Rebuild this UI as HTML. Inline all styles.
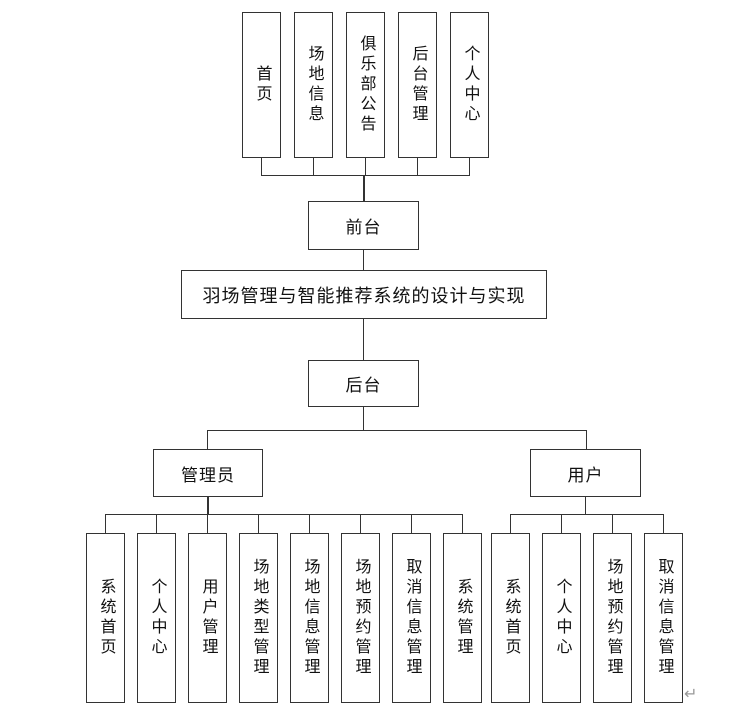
<!DOCTYPE html>
<html><head><meta charset="utf-8"><style>
body{margin:0;background:#fff;}
.b{position:absolute;border:1.5px solid #333;box-sizing:border-box;background:#fff;display:flex;align-items:center;justify-content:center;font-family:"Liberation Sans","Noto Sans CJK SC",sans-serif;color:#111;}
.v{writing-mode:vertical-rl;font-size:16px;line-height:16px;letter-spacing:4px;}
.h{font-size:17px;letter-spacing:1px;}
.l{position:absolute;background:#333;}
</style></head><body>
<div style="position:relative;width:740px;height:717px;overflow:hidden">
<!-- top boxes -->
<div class="b v" style="left:242px;top:12px;width:39px;height:146px">首页</div>
<div class="b v" style="left:294px;top:12px;width:39px;height:146px">场地信息</div>
<div class="b v" style="left:346px;top:12px;width:39px;height:146px">俱乐部公告</div>
<div class="b v" style="left:398px;top:12px;width:39px;height:146px">后台管理</div>
<div class="b v" style="left:450px;top:12px;width:39px;height:146px">个人中心</div>
<div class="l" style="left:261px;top:158px;width:1px;height:18px"></div>
<div class="l" style="left:313px;top:158px;width:1px;height:18px"></div>
<div class="l" style="left:365px;top:158px;width:1px;height:18px"></div>
<div class="l" style="left:417px;top:158px;width:1px;height:18px"></div>
<div class="l" style="left:469px;top:158px;width:1px;height:18px"></div>
<div class="l" style="left:261px;top:175px;width:209px;height:1px"></div>
<div class="l" style="left:363px;top:175px;width:2px;height:26px"></div>
<div class="b h" style="left:308px;top:201px;width:111px;height:49px">前台</div>
<div class="l" style="left:363px;top:250px;width:1px;height:20px"></div>
<div class="b h" style="left:181px;top:270px;width:366px;height:49px;font-size:18px">羽场管理与智能推荐系统的设计与实现</div>
<div class="l" style="left:363px;top:319px;width:1px;height:41px"></div>
<div class="b h" style="left:308px;top:360px;width:111px;height:47px">后台</div>
<div class="l" style="left:363px;top:407px;width:1px;height:23px"></div>
<div class="l" style="left:207px;top:430px;width:380px;height:1px"></div>
<div class="l" style="left:207px;top:430px;width:1px;height:19px"></div>
<div class="l" style="left:586px;top:430px;width:1px;height:19px"></div>
<div class="b h" style="left:153px;top:449px;width:110px;height:48px">管理员</div>
<div class="b h" style="left:530px;top:449px;width:111px;height:48px">用户</div>
<div class="l" style="left:207px;top:497px;width:2px;height:17px"></div>
<div class="l" style="left:585px;top:497px;width:1px;height:17px"></div>
<div class="l" style="left:105px;top:514px;width:358px;height:1px"></div>
<div class="l" style="left:510px;top:514px;width:154px;height:1px"></div>
<!-- leaf connectors -->
<div class="l" style="left:105px;top:514px;width:1px;height:20px"></div>
<div class="l" style="left:156px;top:514px;width:1px;height:20px"></div>
<div class="l" style="left:207px;top:514px;width:1px;height:20px"></div>
<div class="l" style="left:258px;top:514px;width:1px;height:20px"></div>
<div class="l" style="left:309px;top:514px;width:1px;height:20px"></div>
<div class="l" style="left:360px;top:514px;width:1px;height:20px"></div>
<div class="l" style="left:411px;top:514px;width:1px;height:20px"></div>
<div class="l" style="left:462px;top:514px;width:1px;height:20px"></div>
<div class="l" style="left:510px;top:514px;width:1px;height:20px"></div>
<div class="l" style="left:561px;top:514px;width:1px;height:20px"></div>
<div class="l" style="left:612px;top:514px;width:1px;height:20px"></div>
<div class="l" style="left:663px;top:514px;width:1px;height:20px"></div>
<!-- leaves -->
<div class="b v" style="left:86px;top:533px;width:39px;height:170px">系统首页</div>
<div class="b v" style="left:137px;top:533px;width:39px;height:170px">个人中心</div>
<div class="b v" style="left:188px;top:533px;width:39px;height:170px">用户管理</div>
<div class="b v" style="left:239px;top:533px;width:39px;height:170px">场地类型管理</div>
<div class="b v" style="left:290px;top:533px;width:39px;height:170px">场地信息管理</div>
<div class="b v" style="left:341px;top:533px;width:39px;height:170px">场地预约管理</div>
<div class="b v" style="left:392px;top:533px;width:39px;height:170px">取消信息管理</div>
<div class="b v" style="left:443px;top:533px;width:39px;height:170px">系统管理</div>
<div class="b v" style="left:491px;top:533px;width:39px;height:170px">系统首页</div>
<div class="b v" style="left:542px;top:533px;width:39px;height:170px">个人中心</div>
<div class="b v" style="left:593px;top:533px;width:39px;height:170px">场地预约管理</div>
<div class="b v" style="left:644px;top:533px;width:39px;height:170px">取消信息管理</div>
<div style="position:absolute;left:684px;top:684px;font-size:16px;color:#999;font-family:'DejaVu Sans',sans-serif">↵</div>
</div>
</body></html>
